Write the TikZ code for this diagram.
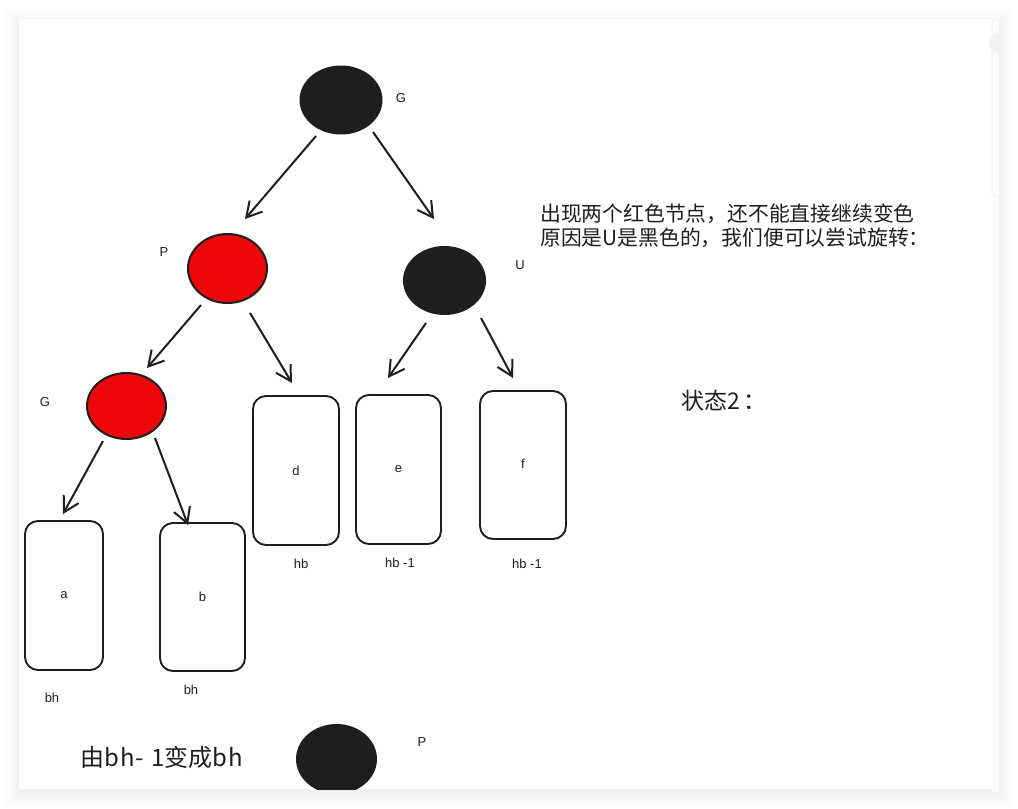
\documentclass[tikz,border=0pt]{standalone}
\usepackage{fontspec}
\setmainfont{Liberation Sans}
\newfontfamily\cjk{Noto Sans CJK SC}
\usetikzlibrary{arrows.meta,shapes.geometric,calc}
\definecolor{ink}{HTML}{1E1E1E}
\definecolor{redfill}{HTML}{EC0808}
\begin{document}
\begin{tikzpicture}[x=1pt,y=-1pt,
  rb/.style={ellipse, draw=ink, line width=2pt, inner sep=0pt},
  blk/.style={rb, fill=ink},
  rd/.style={rb, fill=redfill},
  leaf/.style={rectangle, draw=ink, line width=1.9pt, rounded corners=13pt, inner sep=0pt,
    font=\fontsize{13}{15}\selectfont, text=ink},
  lbl/.style={inner sep=0pt, font=\fontsize{13}{15}\selectfont, text=ink},
  arr/.style={draw=ink, line width=2pt, -{Straight Barb[length=15pt,width=17pt]}},
  cjktext/.style={inner sep=0pt, text=ink, anchor=west}
]
\useasboundingbox (0,0) rectangle (1018,809);
\fill[white] (0,0) rectangle (1018,809);
% shadow
\foreach \i in {1,...,14}{
  \fill[black, opacity=0.0045] (19-\i,19-\i+4) rectangle (999+\i,789+\i+4);
}
% card
\fill[white] (19,19) rectangle (992,789);
\fill[white!98!black] (992,15) rectangle (999,792);
\draw[white!94!black, line width=0.6pt, rounded corners=5pt] (999,19) -- (992,19) -- (992,197) -- (999,197);
\fill[white!95!black] (999,33) arc[start angle=90, end angle=270, radius=10pt] -- cycle;

% tree nodes
\node[blk, minimum width=81pt, minimum height=67pt] (G) at (341,100) {};
\node[rd, minimum width=79pt, minimum height=69pt] (P) at (227.5,268.5) {};
\node[blk, minimum width=81pt, minimum height=67pt] (U) at (444.5,280.5) {};
\node[rd, minimum width=79pt, minimum height=66pt] (G2) at (126.5,406) {};

\node[leaf, minimum width=78pt, minimum height=149pt] (a) at (64,595.5) {a};
\node[leaf, minimum width=85pt, minimum height=148pt] (b) at (202.5,597) {b};
\node[leaf, minimum width=86pt, minimum height=149pt] (d) at (296,470.5) {d};
\node[leaf, minimum width=85pt, minimum height=149pt] (e) at (398.5,469.5) {e};
\node[leaf, minimum width=86pt, minimum height=148pt] (f) at (523,465) {\raisebox{2pt}{f}};

% labels
\node[lbl] (lG) at (401,98) {G};
\node[lbl] (lP) at (164,252) {P};
\node[lbl] (lU) at (520,265) {U};
\node[lbl] (lG2) at (45,402) {G};
\node[lbl] (bha) at (52,698) {bh};
\node[lbl] (bhb) at (191,690) {bh};
\node[lbl] (hbd) at (301,564) {hb};
\node[lbl] (hbe) at (400,563) {hb -1};
\node[lbl] (hbf) at (527,564) {hb -1};
\node[lbl] (lPb) at (422,742) {P};

% arrows
\draw[arr] ([shift={(-25,36)}]G.center) -- ([shift={(17.5,-49.5)}]P.center);
\draw[arr] ([shift={(32,32)}]G.center) -- ([shift={(-10.5,-61.5)}]U.center);
\draw[arr] ([shift={(-26.5,36.5)}]P.center) -- ([shift={(20.5,-38)}]G2.center);
\draw[arr] ([shift={(22.5,44.5)}]P.center) -- ([shift={(-4,-87.5)}]d.center);
\draw[arr] ([shift={(-18.5,42.5)}]U.center) -- ([shift={(-10.5,-91.5)}]e.center);
\draw[arr] ([shift={(36.5,37.5)}]U.center) -- ([shift={(-10,-87)}]f.center);
\draw[arr] ([shift={(-23.5,35)}]G2.center) -- ([shift={(-1,-81.5)}]a.center);
\draw[arr] ([shift={(28.5,32)}]G2.center) -- ([shift={(-14.5,-72)}]b.center);

% texts
\node[cjktext, align=left, font={\cjk\fontsize{20.8}{24}\selectfont}] (note) at (540,226)
  {出现两个红色节点，还不能直接继续变色\\原因是U是黑色的，我们便可以尝试旋转：};
\node[cjktext, font={\cjk\fontsize{23}{27}\selectfont}] (state) at (681,401) {状态2\,：};
\node[cjktext, font={\cjk\fontsize{24}{28}\selectfont}] (change) at (80,757) {由b\kern1pt h\kern1pt -\kern2pt\ 1变成b\kern1pt h};

% bottom node, clipped by the card
\begin{scope}
  \clip (19,19) rectangle (992,789);
  \node[blk, minimum width=79pt, minimum height=68pt] (Pb) at (336.5,759) {};
\end{scope}
\end{tikzpicture}
\end{document}
